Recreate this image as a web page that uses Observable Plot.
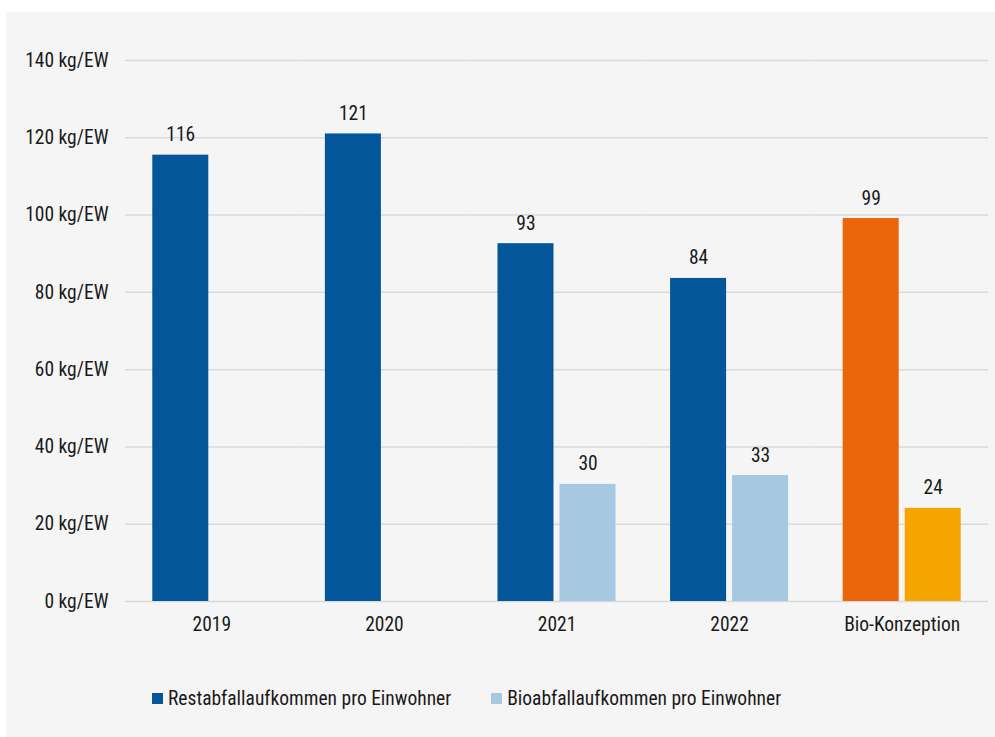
<!DOCTYPE html>
<html>
<head>
<meta charset="utf-8">
<script src="https://cdn.jsdelivr.net/npm/d3@7"></script>
<script src="https://cdn.jsdelivr.net/npm/@observablehq/plot@0.6"></script>
<style>
  html, body { margin: 0; padding: 0; background: #ffffff; }
  #panel {
    position: absolute; left: 6px; top: 12px; width: 989px; height: 725px;
    background: #f5f5f5;
    font-family: "Roboto Condensed", "Roboto", sans-serif;
    color: #1a1a1a;
  }
  #chart svg { display: block; }
  #legend {
    position: absolute; left: 146px; top: 675px;
    display: flex; align-items: center; font-size: 19.5px; color: #1a1a1a;
  }
  .item { display: flex; align-items: center; margin-right: 40px; }
  .sw { width: 11px; height: 11px; margin-right: 5px; }
</style>
</head>
<body>
<div id="panel">
  <div id="chart"></div>
  <div id="legend"></div>
</div>
<script>
const categories = ["2019", "2020", "2021", "2022", "Bio-Konzeption"];
const seriesNames = ["Restabfallaufkommen pro Einwohner", "Bioabfallaufkommen pro Einwohner"];
const restValues = [115.5, 121.0, 92.6, 83.6, 99.1];
const bioValues = [null, null, 30.3, 32.6, 24.1];
const yTicks = [0, 20, 40, 60, 80, 100, 120, 140];

const colors = {
  rest: "#03569A",
  bio: "#A6C8E0",
  restPlan: "#EB6608",
  bioPlan: "#F5A400"
};

const data = [];
categories.forEach((c, i) => {
  data.push({cat: c, series: seriesNames[0], value: restValues[i]});
  if (bioValues[i] != null) data.push({cat: c, series: seriesNames[1], value: bioValues[i]});
});

const fillOf = d => {
  const plan = d.cat === "Bio-Konzeption";
  if (d.series === seriesNames[0]) return plan ? colors.restPlan : colors.rest;
  return plan ? colors.bioPlan : colors.bio;
};

const chart = Plot.plot({
  width: 989,
  height: 630,
  marginLeft: 119,
  marginRight: 7,
  marginTop: 48,
  marginBottom: 41,
  style: {
    background: "transparent",
    fontFamily: "'Roboto Condensed', Roboto, sans-serif",
    fontSize: "19.5px",
    color: "#1a1a1a"
  },
  fx: {
    domain: categories,
    padding: 0,
    round: false,
    label: null,
    axis: "bottom",
    tickSize: 0,
    tickPadding: 16
  },
  x: {
    domain: seriesNames,
    paddingInner: 0.097,
    paddingOuter: 0.44,
    round: false,
    axis: null
  },
  y: {
    domain: [0, 140],
    ticks: yTicks,
    tickFormat: d => `${d} kg/EW`,
    tickSize: 0,
    tickPadding: 17,
    label: null
  },
  marks: [
    Plot.ruleY(yTicks, {stroke: "#d9d9d9", strokeWidth: 1.5}),
    Plot.barY(data, {fx: "cat", x: "series", y: "value", fill: fillOf}),
    Plot.text(data, {
      fx: "cat", x: "series", y: "value",
      text: d => d3.format(".0f")(d.value),
      dy: -14, lineAnchor: "bottom", textAnchor: "middle",
      fill: "#1a1a1a", fontSize: 19.5
    })
  ]
});
document.getElementById("chart").appendChild(chart);

const legend = document.getElementById("legend");
[[seriesNames[0], colors.rest], [seriesNames[1], colors.bio]].forEach(([name, col]) => {
  const item = document.createElement("div");
  item.className = "item";
  const sw = document.createElement("span");
  sw.className = "sw";
  sw.style.background = col;
  const t = document.createElement("span");
  t.textContent = name;
  item.appendChild(sw);
  item.appendChild(t);
  legend.appendChild(item);
});
</script>
</body>
</html>
